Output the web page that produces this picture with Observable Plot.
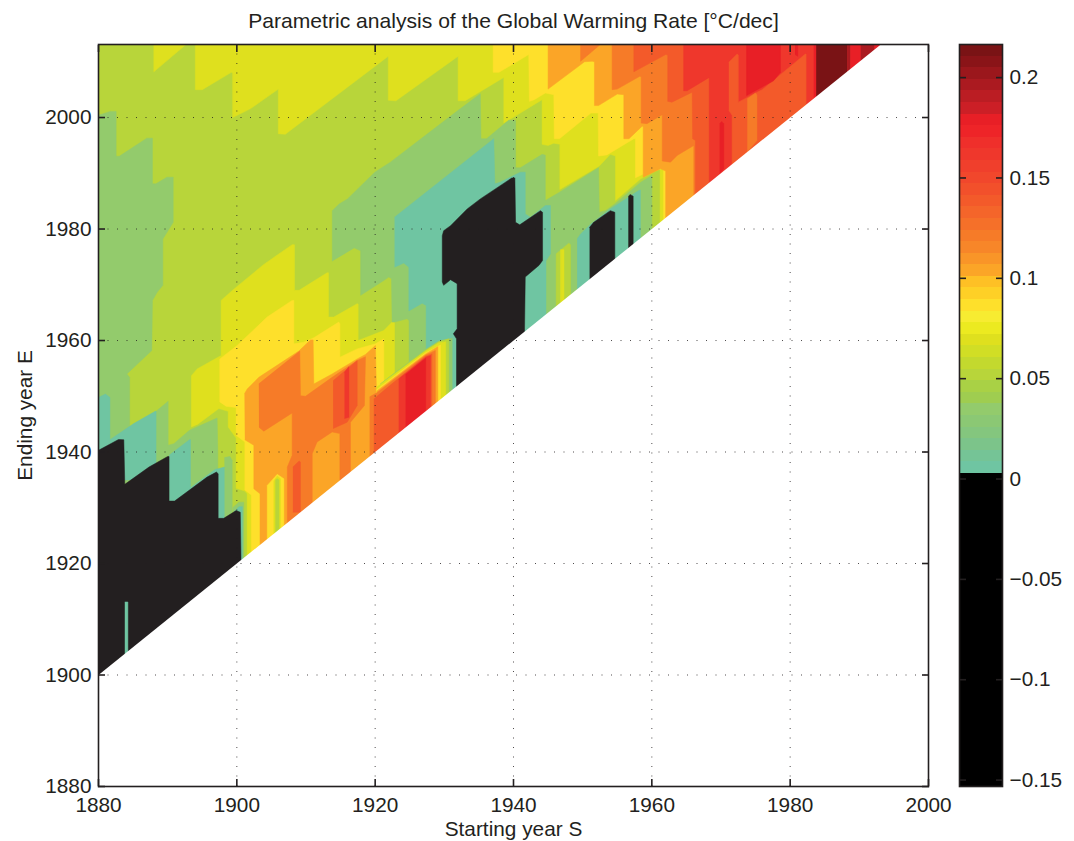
<!DOCTYPE html>
<html><head><meta charset="utf-8">
<script src="https://cdn.jsdelivr.net/npm/d3@7"></script>
<script src="https://cdn.jsdelivr.net/npm/@observablehq/plot@0.6"></script>
<style>
html,body{margin:0;padding:0;background:#fff}
#chart{position:relative;width:1074px;height:841px}
#chart svg{position:absolute;top:0}
</style></head><body><div id="chart"></div>
<script>
// Colour bar: 64 bands, top to bottom (37 coloured, the rest black)
const barColors = ["#7a1315","#8a1418","#9b171c","#ab1a20","#bb1d23","#cc1f26","#e81f26","#ee2428","#ef2f2b","#ef372c","#f03f2c","#f1472c","#f2502b","#f35a2a","#f4652a","#f57029","#f67b28","#f78629","#f99528","#fba527","#fec025","#fed026","#fee02b","#f7ec31","#ecea20","#dfe01e","#d1de25","#c3d92e","#b8d53a","#a9d145","#9fcd50","#93cb6c","#8bc874","#84c67e","#7cc48a","#75c496","#6fc5a2"];
const barTop = 0.2165, barBottom = -0.1532, barTicks = [-0.15,-0.1,-0.05,0,0.05,0.1,0.15,0.2];
const yearTicks = [1880,1900,1920,1940,1960,1980,2000];

// Rate levels (deg C/dec) of the contour bands
const BLACK=-0.05, TEAL=0.0055, GREEN=0.0345, YG=0.0518, YEL=0.0691, GOLD=0.0864, OGOLD=0.1038, ORANGE=0.1211, RORANGE=0.1385, RED=0.1616, BRIGHT=0.1789, MAROON=0.1963, DARK=0.2136;

// Contour outlines as [starting year S, ending year E]
const background=[[1880,1900],[1880,2014],[2000,2014],[2000,1900]];
const yellowA=[[1888,2014],[1888,2008.2],[1893.5,2014]];
const yellowTop=[[1894,2014],[1894,2005],[1895,2005],[1899.2,2008.1],[1899.4,2008],[1899.4,2000],[1902,2001.6],[1906,2005.1],[1906,1997.1],[1907,1997],[1921.9,2011],[1921.9,2003.1],[1923,2003],[1932,2011],[1932,2003],[1933,2003],[1938.6,2007.2],[1938.6,1999],[1944.14,2003.2],[1944.14,1995.2],[1945,1995],[1945.8,1995.4],[1946.7,1995.2],[1946.7,1987.1],[1952.4,1991.3],[1954,1993.4],[1954.75,1993.1],[1954.75,1985.1],[1958.4,1989],[1961.2,1990.8],[1961.2,1975],[1994,2005],[2000,2014]];
const goldTop=[[1937.06,2014],[1937.06,2008.1],[1937.9,2008.1],[1942.2,2011.3],[1942.3,2002.9],[1943,2003.2],[1944.6,2004.4],[1945.83,2004.1],[1945.9,1996.2],[1946.65,1996.2],[1951.2,2000.8],[1952.24,2000.8],[1952.3,1993.1],[1953.5,1993.3],[1957.4,1996.2],[1957.64,1996.2],[1957.64,1989.2],[1959,1990],[1961.7,1990.9],[1961.7,1975],[1994,2005],[2000,2014]];
const ogoldTop=[[1945,2014],[1945,2005.1],[1950.27,2010],[1951.37,2010.1],[1951.7,2010],[1951.7,2002.15],[1952.3,2002.15],[1955,2004.2],[1955.95,2004.1],[1955.95,1996.2],[1956.7,1996.2],[1958.6,1998.45],[1958.75,1998.4],[1958.75,1989.3],[1961.25,1990.8],[1962,1990.4],[1962,1975],[1994,2005],[2000,2014]];
const orangeA=[[1949.7,2014],[1949.7,2010.1],[1953.4,2014]];
const orangeTop=[[1954.26,2014],[1954.26,2005],[1955,2005.1],[1958.26,2007.4],[1958.46,2007.3],[1958.46,1999],[1959.3,1998.9],[1961.5,2000.5],[1961.5,1992.2],[1962.7,1992],[1963.66,1993.2],[1966.07,1995],[1966.07,1980],[2000,2000],[2000,2014]];
const rorangeTop=[[1957.4,2014],[1957.4,2008.2],[1962,2011.3],[1962.3,2011.2],[1962.3,2002.9],[1962.9,2002.75],[1965.83,2004.55],[1965.9,1996.2],[1966.3,1995.9],[1966.3,1980],[2000,2000],[2000,2014]];
const redTop=[[1964.6,2014],[1964.6,2004.8],[1965.1,2004.8],[1968.3,2007.2],[1968.3,1985],[2000,2000],[2000,2014]];
const brightStripe=[[1969.8,1998.9],[1970.1,1999.3],[1970.4,1998.9],[1970.4,1990.8],[1969.8,1989.9]];
const rorangeB=[[1971.13,2009.9],[1972.33,2011.4],[1972.5,2011.2],[1972.5,2002.75],[1975,2004.4],[1975.95,2005],[1982.2,2011.4],[1982.3,2011.4],[1982.3,1995],[1971.6,1985],[1971.6,2000.4],[1971.13,2001.3]];
const orangeB=[[1973.8,2003.35],[1975,2004.4],[1975.2,2004],[1975.2,1995.9],[1973.9,1994],[1973.8,1985]];
const brightTop=[[1973.7,2014],[1973.7,2003.95],[1977.6,2006.6],[1978.6,2008.1],[1978.6,2014]];
const brightThin=[[1980.7,2014],[1981.1,2014],[1981.1,2011],[1980.7,2011.3]];
const brightC=[[1983.4,2014],[1983.75,2014],[1983.75,1995],[1983.4,1995]];
const darkTop=[[1983.76,2014],[1988.24,2014],[1988.24,1995],[1983.76,1995]];
const maroonA=[[1988.24,2014],[1988.7,2014],[1988.7,1995],[1988.24,1995]];
const brightD=[[1988.7,2014],[2000,2014],[2000,1995],[1988.7,1995]];
const maroonB=[[1990.2,2014],[1992.1,2014],[1992.1,1995],[1990.2,1995]];
// warm island
const yellowIsland=[[1893.44,1944.46],[1893.44,1953.7],[1894.26,1954.9],[1897.73,1957.3],[1897.73,1967.2],[1899.47,1969.1],[1903.9,1973.65],[1908,1977.2],[1908.33,1977.2],[1908.33,1969],[1909,1969],[1913.05,1972.15],[1913.25,1972.15],[1913.25,1964.2],[1914.02,1964.2],[1917.4,1966.6],[1917.54,1966.5],[1917.54,1960],[1921.25,1961.8],[1922.45,1963.3],[1922.8,1963.3],[1922.8,1935],[1901.5,1921],[1901.5,1932.5],[1901.16,1933],[1899.9,1933.5],[1899.9,1942.5],[1898.75,1944.5],[1898.75,1947.3],[1897.4,1947.8],[1894.26,1944.9]];
const goldIsland=[[1897.54,1948.94],[1897.54,1956.7],[1900.04,1959.1],[1904.38,1964.2],[1908,1967.2],[1908.24,1967.2],[1908.24,1959.4],[1909.68,1959.7],[1911.13,1960.5],[1914.74,1963.3],[1914.9,1963],[1914.9,1957],[1917.4,1958.5],[1920.04,1959.4],[1921.25,1960.3],[1921.25,1951],[1921.25,1940],[1902.1,1920],[1902.1,1932.3],[1901.16,1933.2],[1901.16,1941.8],[1899.9,1943],[1899.9,1948],[1898.4,1948.2]];
const ogoldIsland=[[1901.1,1950.44],[1901.5,1951.3],[1903.18,1953.4],[1908.96,1958.1],[1910.65,1960.1],[1911.03,1960.1],[1911.13,1952.2],[1913.78,1954],[1917.4,1956.7],[1918.6,1957.5],[1920.04,1959.1],[1920.2,1949.84],[1920.2,1939],[1903.35,1920],[1903.35,1932.5],[1902.46,1933.4],[1902.46,1941.2],[1901.16,1942.2]];
const orangeIsland=[[1903.18,1952.23],[1909.1,1958.1],[1909.2,1950.1],[1909.93,1950],[1913.78,1953.4],[1917.4,1956.4],[1918.6,1957.1],[1918.45,1948.35],[1916.43,1945.35],[1916.43,1935],[1914.9,1935],[1914.9,1943.3],[1913.78,1943.6],[1911.6,1941.8],[1910.9,1939.7],[1910.9,1929],[1907.3,1927],[1907.3,1937.3],[1908,1939.4],[1908,1947],[1903.9,1943.74],[1903.2,1944.46]];
const rorangeA=[[1913.92,1952.8],[1917.4,1956.4],[1917.4,1948.35],[1915.95,1945.35],[1913.92,1944.2]];
const redA=[[1915.56,1954.3],[1916.2,1955.3],[1916.2,1946.25],[1915.56,1946]];
const rorangeC=[[1908.1,1937.3],[1909,1938.4],[1909.2,1938.2],[1909.2,1929.2],[1908.1,1929.2]];
const goldFinger=[[1904.4,1920],[1904.4,1934],[1905.84,1936],[1906.8,1935.2],[1906.8,1920]];
const yelFinger=[[1905.35,1920],[1905.35,1934.8],[1905.84,1935.7],[1906.3,1935.2],[1906.3,1920]];
const ygFinger=[[1905.6,1920],[1905.6,1935],[1905.84,1935.2],[1906.1,1935],[1906.1,1920]];
// cold regions
const greenLeft=[[1880,2000.4],[1881.7,2001.1],[1882.55,2001.1],[1882.55,1993.05],[1883,1993.05],[1887,1996.3],[1887.8,1996.3],[1887.8,1988.1],[1888.3,1988.1],[1889.9,1989.3],[1890.8,1989.3],[1890.8,1981.2],[1889.3,1978.2],[1889.3,1969.9],[1888.5,1968.7],[1887.8,1967.2],[1887.7,1958.2],[1884.1,1954],[1884.5,1953.4],[1884.5,1930],[1880,1930]];
const greenMid=[[1913.8,1974.2],[1913.8,1983.3],[1914.8,1984.5],[1916,1985.4],[1919.95,1990.2],[1922.2,1992],[1931.95,2001.24],[1935.2,2004.25],[1935.3,1996.2],[1936.1,1996.2],[1939.3,1999.5],[1940.3,1999.5],[1940.3,1991],[1941,1991],[1944.15,1993.4],[1944.6,1993.25],[1944.6,1985.1],[1946.65,1986.6],[1952.3,1991],[1952.4,1983],[1953.3,1983.3],[1954.65,1984.5],[1958.4,1988.4],[1960,1989.6],[1960,1975],[1940,1958],[1924.9,1945],[1924.9,1963.6],[1924.6,1963.9],[1922.8,1963.3],[1922.45,1963.3],[1922.36,1971.06],[1921.97,1971.4],[1921.3,1970.8],[1917.9,1968.1],[1917.9,1976.1],[1917,1976.6]];
const green2=[[1888.33,1947.3],[1890.07,1949.1],[1890.07,1941.2],[1890.9,1941.5],[1893.15,1943.9],[1897.15,1946.1],[1897.25,1940.3],[1897.25,1925],[1888.33,1925]];
const green3=[[1898.2,1939],[1899,1939.2],[1899.33,1938.5],[1899.33,1925],[1898.2,1925]];
const tealLeft=[[1880,1949.8],[1881,1950.4],[1881.65,1949.8],[1881.65,1935],[1880,1935]];
const teal2=[[1881.65,1942.2],[1885.1,1945.1],[1888.2,1947.3],[1888.33,1947.3],[1888.33,1935],[1881.65,1935]];
const teal3=[[1890.2,1939.4],[1893.15,1942.2],[1893.3,1942.2],[1893.3,1930],[1890.2,1930]];
const teal3b=[[1893.2,1933.5],[1896.9,1936.9],[1897.3,1937],[1898.2,1937.3],[1898.2,1928],[1893.2,1928]];
const tealMid=[[1922.8,1982.12],[1937.15,1996.2],[1937.3,1988.1],[1938.1,1988.4],[1941,1990.2],[1941.7,1990.2],[1941.7,1982.7],[1942.45,1982.1],[1944.6,1984.2],[1945.35,1984.2],[1945.35,1975.55],[1944.7,1974.3],[1944.7,1960],[1931.8,1945],[1927.37,1958.2],[1927.37,1966.3],[1926.8,1966.7],[1924.87,1965.3],[1924.87,1973.15],[1924.14,1973.9],[1922.8,1973.15]];
const ygFinger2=[[1946.17,1960],[1946.17,1975.55],[1948,1977.46],[1948.24,1977.2],[1948.24,1960]];
const yelFinger2=[[1946.8,1960],[1946.8,1976.3],[1947.3,1976.3],[1947.3,1960]];
const tealRight=[[1949.2,1978.2],[1949.7,1979.1],[1951.1,1980.8],[1954,1983.6],[1958.1,1986.9],[1958.35,1987],[1958.35,1970],[1949.2,1960]];
const tealSliver=[[1883.8,1913.1],[1884.25,1913.1],[1884.25,1900],[1883.8,1900]];
// warm strip 1920-1931
const stripGreen=[[1920.77,1952.24],[1927.3,1958.4],[1929.2,1959.9],[1931.13,1960.4],[1931.13,1945],[1920.77,1945]];
const stripYG=[[1920.77,1952.2],[1927.3,1958.3],[1929.2,1959.8],[1930.65,1960.3],[1930.65,1945],[1920.77,1945]];
const stripYel=[[1920.2,1951.6],[1927.3,1958.1],[1929.2,1959.6],[1930.2,1959.8],[1930.2,1945],[1920.2,1945]];
const stripGold=[[1920.2,1951.2],[1927.3,1957.8],[1929.45,1959.2],[1929.45,1945],[1920.2,1945]];
const stripOgold=[[1920.2,1950.9],[1927.3,1957.6],[1929.06,1958.9],[1929.06,1945],[1920.2,1945]];
const stripOrange=[[1919.2,1949.9],[1920.2,1950.6],[1927.3,1957.4],[1928.7,1958.2],[1928.7,1945],[1919.2,1938]];
const stripRorange=[[1919.8,1949.5],[1922.2,1952],[1927.3,1957.2],[1928.2,1957.6],[1928.2,1939],[1919.8,1939]];
const stripRed=[[1923.4,1953.1],[1927.3,1957],[1928,1957.3],[1928,1942],[1923.4,1942]];
const stripBright=[[1924.4,1953.9],[1927.3,1956.8],[1927.3,1942],[1924.4,1942]];
// stripes right of the first black block
const stripeGreen=[[1899.4,1930],[1900.3,1931],[1901,1931],[1901,1915],[1899.4,1915]];
const stripeTeal=[[1899.4,1929],[1900.3,1930.2],[1900.8,1930.2],[1900.8,1915],[1900.55,1915]];
// negative rates
const blackLeft=[[1880,1900],[1880,1940.3],[1882.9,1942.25],[1883.66,1942.2],[1883.8,1934.2],[1887.3,1937.3],[1890,1939.2],[1890.2,1939.2],[1890.2,1931.2],[1891,1931.2],[1895.7,1935.5],[1897.05,1936.4],[1897.3,1936.1],[1897.3,1928.1],[1898.1,1928.1],[1899.9,1929.5],[1900.5,1929.2],[1900.6,1921.15],[1900.6,1900]];
const blackMid=[[1940.2,1989.2],[1940.3,1981.2],[1940.9,1980.75],[1943.9,1983.3],[1944.2,1983],[1944.2,1974.35],[1943.7,1973.5],[1941.7,1971.4],[1941.6,1962.1],[1941.6,1950],[1931.76,1950],[1931.76,1960.3],[1931.3,1961.2],[1931.85,1962.1],[1931.85,1970.2],[1930.9,1970.9],[1929.9,1969.9],[1929.7,1970.5],[1929.7,1978.8],[1929.9,1979.7],[1930.9,1980.6],[1933.3,1983.6],[1935.2,1985.4],[1939.8,1989.2]];
const blackRight=[[1951,1980.3],[1951.6,1981.2],[1954,1983.3],[1954.65,1983],[1954.65,1970],[1951,1965]];
const blackThin=[[1956.6,1985.8],[1956.85,1986.2],[1957.3,1985.9],[1957.3,1970],[1956.6,1970]];
// white corner below E = S + 20
const noData=[[1880,1900],[1880,1870],[2010,1870],[2010,2030]];

const patches=[
 [background,YG],[yellowA,YEL],[yellowTop,YEL],[goldTop,GOLD],[ogoldTop,OGOLD],[orangeA,ORANGE],[orangeTop,ORANGE],[rorangeTop,RORANGE],[redTop,RED],
 [brightStripe,BRIGHT],[rorangeB,RORANGE],[orangeB,ORANGE],[brightTop,BRIGHT],[brightThin,BRIGHT],[brightC,BRIGHT],[darkTop,DARK],[maroonA,MAROON],[brightD,BRIGHT],[maroonB,MAROON],
 [yellowIsland,YEL],[goldIsland,GOLD],[ogoldIsland,OGOLD],[orangeIsland,ORANGE],[rorangeA,RORANGE],[redA,RED],[rorangeC,RORANGE],[goldFinger,GOLD],[yelFinger,YEL],[ygFinger,YG],
 [greenLeft,GREEN],[greenMid,GREEN],[green2,GREEN],[green3,GREEN],[tealLeft,TEAL],[teal2,TEAL],[teal3,TEAL],[teal3b,TEAL],[tealMid,TEAL],[ygFinger2,YG],[yelFinger2,YEL],[tealRight,TEAL],
 [stripGreen,GREEN],[stripYG,YG],[stripYel,YEL],[stripGold,GOLD],[stripOgold,OGOLD],[stripOrange,ORANGE],[stripRorange,RORANGE],[stripRed,RED],[stripBright,BRIGHT],
 [stripeGreen,GREEN],[stripeTeal,TEAL],
 [blackLeft,BLACK],[blackMid,BLACK],[blackRight,BLACK],[blackThin,BLACK],[tealSliver,TEAL]
];
const rows=patches.flatMap(([pts,rate],id)=>pts.map(([S,E])=>({id,S,E,rate})));

const N=64, step=(barTop-barBottom)/N;
const thresholds=d3.range(1,N).map(i=>barBottom+i*step);
const ramp=[...barColors].reverse();
const blackN=N-barColors.length;
const colorsMain=[...Array(blackN).fill("#231f20"),...ramp];
const colorsBar=[...Array(blackN).fill("#000000"),...ramp];
const ink="#231f20", font="'Liberation Sans',Arial,sans-serif", fs=20.8;
const dots="1,8.5";
const noLabel=()=>"";

const main=Plot.plot({
  width:1074,height:841,marginLeft:98,marginRight:146,marginTop:44,marginBottom:55,
  style:{fontFamily:font,fontSize:fs+"px",color:ink,background:"transparent",overflow:"visible"},
  x:{domain:[1880,2000]},y:{domain:[1880,2013.1]},
  color:{type:"threshold",domain:thresholds,range:colorsMain},
  marks:[
    Plot.line(rows,{x:"S",y:"E",z:"id",fill:"rate",stroke:"rate",strokeWidth:0.5,curve:"linear",clip:true,strokeLinecap:"butt"}),
    Plot.line(noData,{x:d=>d[0],y:d=>d[1],fill:"white",stroke:"white",strokeWidth:0.5,clip:true}),
    Plot.gridX(yearTicks,{stroke:ink,strokeOpacity:0.8,strokeWidth:1,strokeDasharray:dots}),
    Plot.gridY(yearTicks,{stroke:ink,strokeOpacity:0.8,strokeWidth:1,strokeDasharray:dots}),
    Plot.frame({stroke:ink,strokeWidth:1.6}),
    Plot.axisX({ticks:yearTicks,tickFormat:"d",tickSize:-7,tickPadding:18,stroke:ink,strokeWidth:1.6,label:"Starting year S",labelAnchor:"center",labelArrow:"none",labelOffset:49}),
    Plot.axisX({ticks:yearTicks,anchor:"top",tickFormat:noLabel,tickSize:-7,stroke:ink,strokeWidth:1.6,label:null}),
    Plot.axisY({ticks:yearTicks,tickFormat:"d",tickSize:-7,tickPadding:14,stroke:ink,strokeWidth:1.6,label:"Ending year E",labelAnchor:"center",labelArrow:"none",labelOffset:81}),
    Plot.axisY({ticks:yearTicks,anchor:"right",tickFormat:noLabel,tickSize:-7,stroke:ink,strokeWidth:1.6,label:null}),
    Plot.text(["Parametric analysis of the Global Warming Rate [°C/dec]"],{frameAnchor:"top",lineAnchor:"middle",dy:-23,fontSize:21.1,fill:ink})
  ]
});
main.style.left="0";

const bands=d3.range(N).map(i=>({lo:barBottom+i*step,hi:barBottom+(i+1)*step,rate:barBottom+(i+0.5)*step}));
const fmt=d=>d===0?"0":String(d).replace("-","\u2212");
const bar=Plot.plot({
  width:174,height:841,marginLeft:59,marginRight:72,marginTop:44,marginBottom:55,
  style:{fontFamily:font,fontSize:fs+"px",color:ink,background:"transparent",overflow:"visible"},
  x:{domain:[0,1],axis:null},y:{domain:[barBottom,barTop]},
  color:{type:"threshold",domain:thresholds,range:colorsBar},
  marks:[
    Plot.rect(bands,{x1:0,x2:1,y1:"lo",y2:"hi",fill:"rate",shapeRendering:"crispEdges"}),
    Plot.frame({stroke:ink,strokeWidth:1.6}),
    Plot.axisY({ticks:barTicks,anchor:"right",tickFormat:fmt,tickSize:-7,tickPadding:14,stroke:ink,strokeWidth:1.6,label:null}),
    Plot.axisY({ticks:barTicks,anchor:"left",tickFormat:noLabel,tickSize:-7,stroke:ink,strokeWidth:1.6,label:null})
  ]
});
bar.style.left="900px";
const host=document.getElementById("chart");
host.append(main,bar);
</script></body></html>
